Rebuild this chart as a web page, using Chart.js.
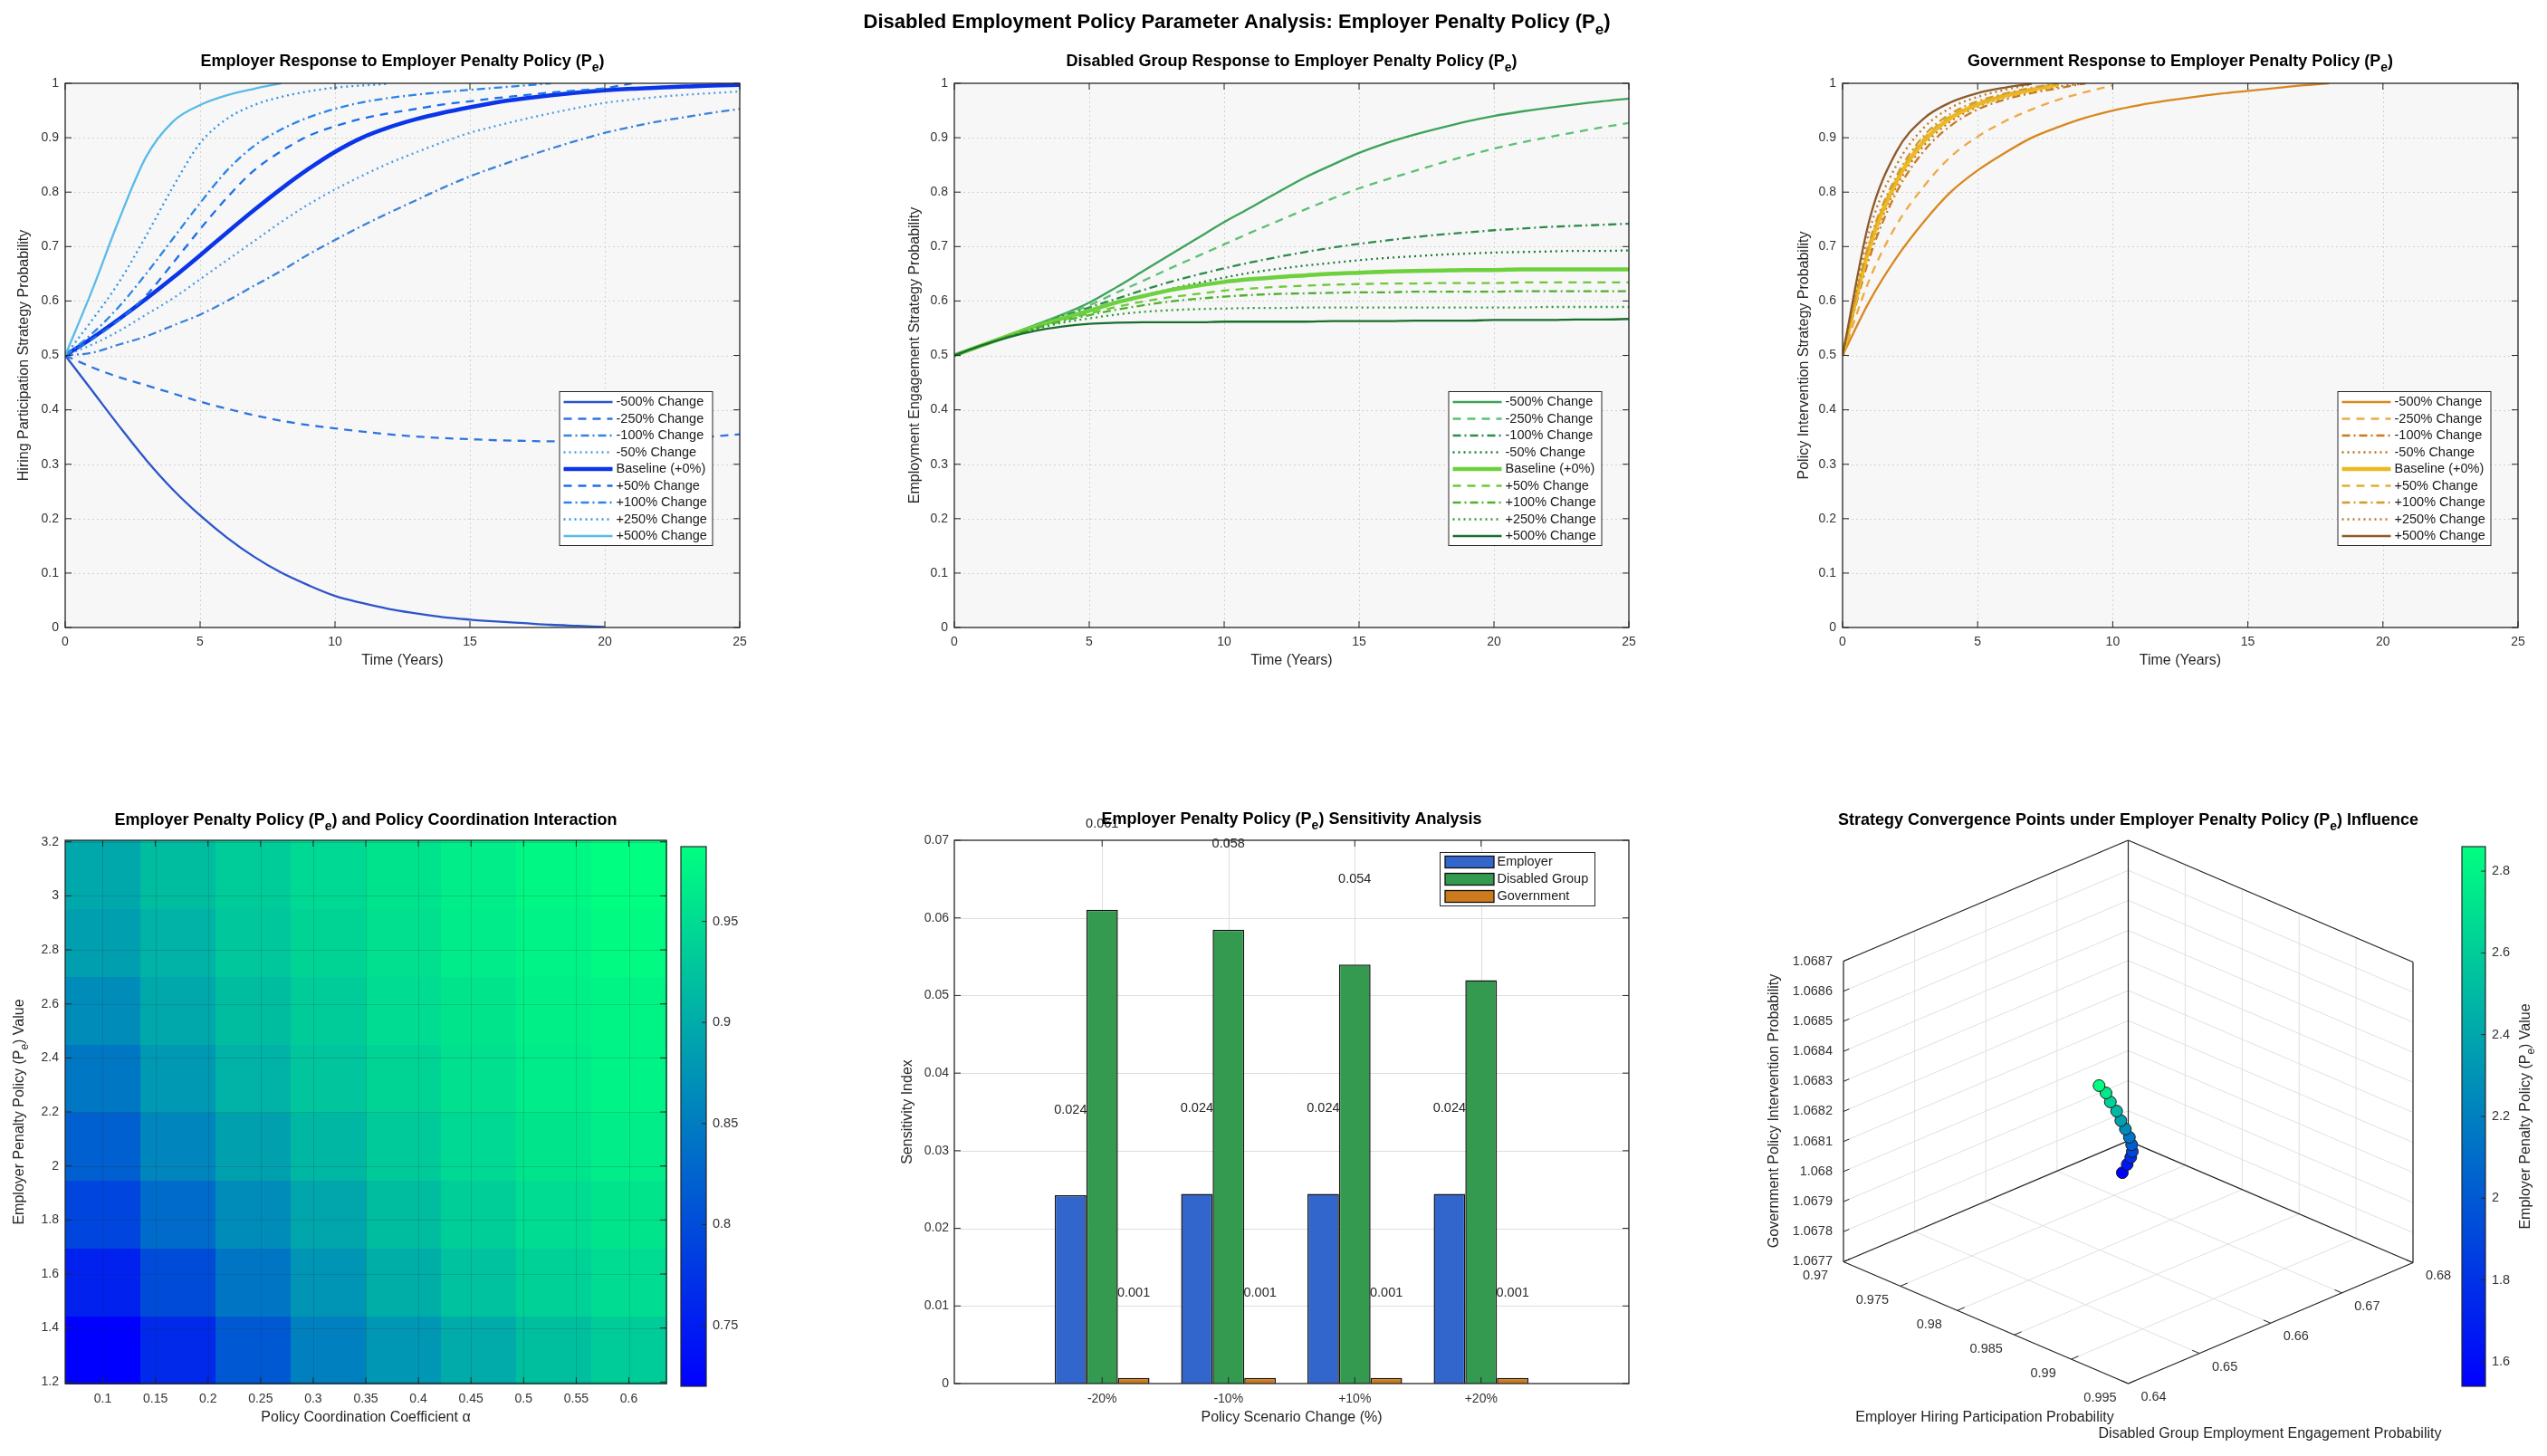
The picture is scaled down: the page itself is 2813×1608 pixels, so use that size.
<!DOCTYPE html>
<html>
<head>
<meta charset="utf-8">
<title>Disabled Employment Policy Parameter Analysis</title>
<script src="https://cdn.jsdelivr.net/npm/chart.js@4.4.1/dist/chart.umd.min.js"></script>
<style>
  html, body { margin: 0; padding: 0; background: #fff; }
  #page { position: relative; width: 2813px; height: 1608px; overflow: hidden; }
  #page canvas { position: absolute; left: 0; top: 0; }
</style>
</head>
<body>
<div id="page">
  <canvas id="empChart" width="2813" height="1608"></canvas>
  <canvas id="disChart" width="2813" height="1608"></canvas>
  <canvas id="govChart" width="2813" height="1608"></canvas>
  <canvas id="heatChart" width="2813" height="1608"></canvas>
  <canvas id="sensChart" width="2813" height="1608"></canvas>
  <canvas id="convChart" width="2813" height="1608"></canvas>
</div>
<script>
// ---------- data ----------
const years = [0,1,2,3,4,5,6,7,8,9,10,11,12,13,14,15,16,17,18,19,20,21,22,23,24,25];
const changeLabels = ['-500% Change','-250% Change','-100% Change','-50% Change','Baseline (+0%)',
                      '+50% Change','+100% Change','+250% Change','+500% Change'];

// employer hiring probability
const empM500 = [0.5,0.435,0.37,0.308,0.253,0.206,0.165,0.13,0.101,0.078,0.058,0.045,0.034,0.026,0.019,0.0145,0.011,0.008,0.005,0.003,0.001];
const empM250 = [0.5,0.478,0.46,0.445,0.43,0.415,0.402,0.39,0.38,0.372,0.366,0.36,0.355,0.351,0.348,0.346,0.344,0.343,0.342,0.342,0.342,0.343,0.345,0.348,0.351,0.355];
const empM100 = [0.5,0.505,0.52,0.535,0.555,0.575,0.6,0.628,0.655,0.685,0.712,0.738,0.762,0.785,0.808,0.829,0.847,0.864,0.88,0.895,0.909,0.92,0.93,0.938,0.946,0.953];
const empM50  = [0.5,0.52,0.545,0.575,0.605,0.64,0.675,0.71,0.745,0.777,0.805,0.83,0.853,0.873,0.892,0.909,0.922,0.934,0.945,0.955,0.964,0.97,0.975,0.979,0.982,0.985];
const empBase = [0.5,0.532,0.567,0.604,0.643,0.684,0.726,0.767,0.806,0.842,0.874,0.9,0.919,0.934,0.946,0.956,0.965,0.972,0.978,0.983,0.987,0.99,0.992,0.994,0.996,0.997];
const empP50  = [0.5,0.53,0.565,0.61,0.67,0.732,0.79,0.84,0.875,0.903,0.921,0.935,0.945,0.953,0.961,0.967,0.973,0.978,0.983,0.987,0.991,1.0];
const empP100 = [0.5,0.54,0.59,0.65,0.715,0.78,0.84,0.885,0.915,0.937,0.953,0.965,0.973,0.979,0.984,0.988,0.992,0.996,1.0];
const empP250 = [0.5,0.565,0.635,0.72,0.81,0.89,0.935,0.96,0.975,0.985,0.992,0.996,0.999];
const empP500 = [0.5,0.62,0.75,0.865,0.93,0.96,0.978,0.99,1.0];

// disabled group engagement probability
const disM500 = [0.5,0.518,0.537,0.556,0.575,0.597,0.625,0.655,0.685,0.715,0.745,0.772,0.8,0.827,0.85,0.872,0.89,0.905,0.918,0.93,0.94,0.948,0.955,0.961,0.967,0.972];
const disM250 = [0.5,0.518,0.537,0.556,0.574,0.592,0.615,0.637,0.66,0.682,0.704,0.726,0.747,0.768,0.788,0.807,0.823,0.838,0.853,0.867,0.88,0.891,0.901,0.91,0.919,0.927];
const disM100 = [0.5,0.518,0.537,0.555,0.572,0.588,0.604,0.62,0.635,0.648,0.66,0.671,0.681,0.69,0.698,0.705,0.711,0.717,0.722,0.726,0.73,0.733,0.736,0.738,0.74,0.742];
const disM50  = [0.5,0.518,0.536,0.553,0.568,0.582,0.597,0.61,0.622,0.633,0.643,0.652,0.659,0.665,0.67,0.675,0.679,0.682,0.685,0.687,0.689,0.69,0.691,0.692,0.692,0.693];
const disBase = [0.5,0.518,0.536,0.553,0.568,0.582,0.597,0.609,0.62,0.628,0.635,0.64,0.644,0.647,0.65,0.652,0.654,0.655,0.656,0.657,0.657,0.658,0.658,0.658,0.658,0.658];
const disP50  = [0.5,0.518,0.535,0.551,0.565,0.577,0.589,0.599,0.607,0.613,0.619,0.623,0.626,0.628,0.63,0.631,0.632,0.632,0.633,0.633,0.633,0.634,0.634,0.634,0.634,0.634];
const disP100 = [0.5,0.518,0.535,0.55,0.563,0.574,0.584,0.592,0.599,0.604,0.608,0.611,0.613,0.614,0.615,0.616,0.616,0.617,0.617,0.617,0.617,0.618,0.618,0.618,0.618,0.618];
const disP250 = [0.5,0.518,0.534,0.548,0.56,0.568,0.575,0.58,0.583,0.585,0.586,0.587,0.587,0.588,0.588,0.588,0.588,0.588,0.588,0.588,0.588,0.588,0.589,0.589,0.589,0.589];
const disP500 = [0.5,0.518,0.533,0.545,0.553,0.558,0.56,0.561,0.561,0.561,0.562,0.562,0.562,0.562,0.563,0.563,0.563,0.564,0.564,0.564,0.565,0.565,0.565,0.566,0.566,0.567];

// government intervention probability
const govM500 = [0.5,0.6,0.68,0.745,0.8,0.84,0.872,0.9,0.92,0.937,0.95,0.96,0.968,0.975,0.981,0.986,0.991,0.996,1.0];
const govM250 = [0.5,0.64,0.74,0.81,0.865,0.902,0.93,0.952,0.97,0.984,0.996];
const govM100 = [0.5,0.68,0.8,0.875,0.922,0.952,0.97,0.982,0.991,1.0];
const govM50  = [0.5,0.69,0.81,0.885,0.93,0.957,0.974,0.985,0.994,1.0];
const govBase = [0.5,0.7,0.82,0.893,0.936,0.961,0.977,0.988,0.998];
const govP50  = [0.5,0.705,0.825,0.898,0.94,0.964,0.979,0.99,0.999];
const govP100 = [0.5,0.71,0.83,0.903,0.944,0.967,0.981,0.992,1.0];
const govP250 = [0.5,0.73,0.85,0.918,0.955,0.975,0.988,0.998];
const govP500 = [0.5,0.75,0.875,0.935,0.965,0.982,0.992,0.999];

// heatmap: alpha (columns) x Pe (rows, bottom to top)
const alphaVals = [0.1,0.1714,0.2429,0.3143,0.3857,0.4571,0.5286,0.6];
const peVals = [1.32,1.5714,1.8229,2.0743,2.3257,2.5771,2.8286,3.08];
const heatValues = [
  [0.720,0.763,0.813,0.854,0.878,0.899,0.920,0.934],
  [0.755,0.800,0.843,0.875,0.902,0.923,0.939,0.950],
  [0.792,0.832,0.867,0.894,0.918,0.936,0.950,0.960],
  [0.821,0.859,0.888,0.912,0.931,0.947,0.960,0.968],
  [0.845,0.880,0.907,0.926,0.942,0.955,0.966,0.974],
  [0.867,0.896,0.918,0.934,0.950,0.960,0.971,0.976],
  [0.886,0.907,0.928,0.942,0.955,0.966,0.974,0.982],
  [0.896,0.918,0.934,0.947,0.958,0.968,0.979,0.987]
];
const alphaTicks = [0.1,0.15,0.2,0.25,0.3,0.35,0.4,0.45,0.5,0.55,0.6];
const peTicks = [1.2,1.4,1.6,1.8,2,2.2,2.4,2.6,2.8,3,3.2];
const heatBarTicks = [0.75,0.8,0.85,0.9,0.95];

// sensitivity bars
const scenarioLabels = ['-20%','-10%','+10%','+20%'];
const scenarioPos = [1,2,3,4];
const sensEmployer = [0.02426,0.02443,0.02443,0.02443];
const sensDisabled = [0.06105,0.05849,0.05398,0.05198];
const sensGov = [0.00072,0.00072,0.00072,0.00072];
const sensTicks = [0,0.01,0.02,0.03,0.04,0.05,0.06,0.07];

// convergence points
const convPe = [1.54,1.66,1.78,1.90,2.02,2.14,2.26,2.38,2.50,2.62,2.74,2.86];
const convEmployer = [0.97448,0.97616,0.97772,0.97911,0.98030,0.98135,0.98225,0.98310,0.98398,0.98468,0.98555,0.98619];
const convDisabled = [0.672,0.670,0.668,0.666,0.664,0.662,0.660,0.658,0.656,0.654,0.652,0.650];
const convGov = [1.067747,1.067822,1.067891,1.067953,1.068015,1.068077,1.068139,1.068201,1.068267,1.068329,1.068393,1.068448];
const convXTicks = [0.97,0.975,0.98,0.985,0.99,0.995];
const convYTicks = [0.64,0.65,0.66,0.67,0.68];
const convZTicks = [1.0677,1.0678,1.0679,1.068,1.0681,1.0682,1.0683,1.0684,1.0685,1.0686,1.0687];
const peBarTicks = [1.6,1.8,2,2.2,2.4,2.6,2.8];

// ---------- styles ----------
const W = 2813, H = 1608;
const AXW = 64, AXH = 40;   // room kept for tick labels
const FONT = '"Liberation Sans", Arial, Helvetica, sans-serif';
const TITLE_PX = 18, LABEL_PX = 16, SUPTITLE_PX = 22;
Chart.defaults.font.family = FONT;
Chart.defaults.font.size = 14;
Chart.defaults.color = '#333333';
const AXIS = '#262626';

const dashes = { '-': [], '--': [9, 7], '-.': [9, 4, 2, 4], ':': [2, 4] };
const lineKinds = ['-', '--', '-.', ':', '-', '--', '-.', ':', '-'];
const lineWidths = [2.3, 2.3, 2.3, 2.3, 4.5, 2.3, 2.3, 2.3, 2.3];
const empColors = ['#2b55c8','#2e74e0','#3b82d9','#4e9ce6','#0a35e8','#1e6fe6','#2a86e6','#2e95e8','#5abbe8'];
const disColors = ['#3da35a','#5cc073','#2e8b4a','#1f7a3a','#6dd13e','#6cc93a','#4faf2f','#2e9a35','#1b6f2e'];
const govColors = ['#d9871f','#f0a845','#c87a1f','#b8701e','#edb91e','#e3ae30','#d29b30','#b87a28','#8e5a2a'];

const lineLegend = { right: 30.5, top: 340, w: 169, h: 170, first: 12, step: 18.5, sx0: 5, sx1: 59, tx: 63, kind: 'line' };
const barLegend = { right: 38, top: 13, w: 171, h: 59, first: 11, step: 19, sx0: 6, sx1: 60, sh: 13, tx: 63.5, kind: 'box' };

// ---------- helpers ----------
function winter(t) {
  t = Math.max(0, Math.min(1, t));
  return `rgb(0,${Math.round(255 * t)},${Math.round(255 * (1 - t / 2))})`;
}

function richText(ctx, str, x, y, opt) {
  const size = opt.size || LABEL_PX, weight = opt.weight || 'normal', align = opt.align || 'center';
  const parts = str.split(/(_\{[^}]*\})/).filter(Boolean)
    .map(p => p.startsWith('_{') ? { t: p.slice(2, -1), sub: true } : { t: p, sub: false });
  const fontOf = p => `${weight} ${p.sub ? Math.round(size * 0.75) : size}px ${FONT}`;
  ctx.save();
  ctx.translate(x, y);
  if (opt.rotate) ctx.rotate(opt.rotate);
  ctx.fillStyle = opt.color || '#000';
  ctx.textBaseline = 'middle';
  ctx.textAlign = 'left';
  let total = 0;
  parts.forEach(p => { ctx.font = fontOf(p); p.w = ctx.measureText(p.t).width; total += p.w; });
  let cx = align === 'center' ? -total / 2 : (align === 'right' ? -total : 0);
  parts.forEach(p => { ctx.font = fontOf(p); ctx.fillText(p.t, cx, p.sub ? size * 0.38 : 0); cx += p.w; });
  ctx.restore();
}

const fixFit = s => {
  if (s.isHorizontal()) s.height = AXH; else s.width = AXW;
  s.paddingLeft = s.paddingRight = s.paddingTop = s.paddingBottom = 0;
};

function linAxis(min, max, ticks, pad, labelFn) {
  return {
    type: 'linear', min, max, offset: false,
    afterFit: fixFit,
    afterBuildTicks: s => { s.ticks = ticks.map(v => ({ value: v })); },
    ticks: { padding: pad, autoSkip: false, maxRotation: 0, color: '#333', font: { size: 14 },
             callback: labelFn || (v => String(+v.toFixed(4))) },
    grid: { display: false, drawTicks: false },
    border: { display: false }
  };
}

function baseOptions(rect, scales, noAxes) {
  const ax = noAxes ? 0 : 1;
  return {
    responsive: false, animation: false, devicePixelRatio: 1, events: [],
    layout: { padding: { left: rect.l - AXW * ax, top: rect.t, right: W - rect.r, bottom: H - rect.b - AXH * ax } },
    plugins: { legend: { display: false }, tooltip: { enabled: false } },
    scales
  };
}

function line(ctx, x0, y0, x1, y1) { ctx.beginPath(); ctx.moveTo(x0, y0); ctx.lineTo(x1, y1); ctx.stroke(); }

function drawGrid(chart, style) {
  const { ctx, chartArea: ca } = chart;
  ctx.save();
  ctx.strokeStyle = style.color; ctx.lineWidth = 1; ctx.setLineDash(style.dash || []);
  chart.scales.x.ticks.forEach(t => {
    const x = Math.round(chart.scales.x.getPixelForValue(t.value)) + 0.5;
    if (x > ca.left + 1 && x < ca.right - 1) line(ctx, x, ca.top, x, ca.bottom);
  });
  chart.scales.y.ticks.forEach(t => {
    const y = Math.round(chart.scales.y.getPixelForValue(t.value)) + 0.5;
    if (y > ca.top + 1 && y < ca.bottom - 1) line(ctx, ca.left, y, ca.right, y);
  });
  ctx.restore();
}

function drawFrame(chart) {
  const { ctx, chartArea: ca } = chart;
  ctx.save();
  ctx.strokeStyle = AXIS; ctx.lineWidth = 1.3;
  ctx.strokeRect(ca.left, ca.top, ca.right - ca.left, ca.bottom - ca.top);
  ctx.lineWidth = 1;
  const tl = 7;
  chart.scales.x.ticks.forEach(t => {
    const x = chart.scales.x.getPixelForValue(t.value);
    line(ctx, x, ca.bottom, x, ca.bottom - tl);
    line(ctx, x, ca.top, x, ca.top + tl);
  });
  chart.scales.y.ticks.forEach(t => {
    const y = chart.scales.y.getPixelForValue(t.value);
    line(ctx, ca.left, y, ca.left + tl, y);
    line(ctx, ca.right, y, ca.right - tl, y);
  });
  ctx.restore();
}

function drawLegend(chart, L) {
  const { ctx, chartArea: ca } = chart;
  const x0 = ca.right - L.right - L.w, y0 = ca.top + L.top;
  ctx.save();
  ctx.fillStyle = '#fff';
  ctx.fillRect(x0, y0, L.w, L.h);
  ctx.strokeStyle = AXIS; ctx.lineWidth = 1;
  ctx.strokeRect(x0 + 0.5, y0 + 0.5, L.w, L.h);
  chart.data.datasets.forEach((ds, i) => {
    const y = y0 + L.first + i * L.step;
    if (L.kind === 'line') {
      ctx.strokeStyle = ds.borderColor; ctx.lineWidth = ds.borderWidth;
      ctx.setLineDash(ds.borderDash || []);
      line(ctx, x0 + L.sx0, y, x0 + L.sx1, y);
      ctx.setLineDash([]);
    } else {
      ctx.fillStyle = ds.backgroundColor;
      ctx.fillRect(x0 + L.sx0, y - L.sh / 2, L.sx1 - L.sx0, L.sh);
      ctx.strokeStyle = '#111'; ctx.lineWidth = 1.3;
      ctx.strokeRect(x0 + L.sx0, y - L.sh / 2, L.sx1 - L.sx0, L.sh);
    }
    ctx.fillStyle = '#1a1a1a'; ctx.font = `14.5px ${FONT}`;
    ctx.textAlign = 'left'; ctx.textBaseline = 'middle';
    ctx.fillText(ds.label, x0 + L.tx, y);
  });
  ctx.restore();
}

function drawColorbar(ctx, cb) {
  ctx.save();
  const g = ctx.createLinearGradient(0, cb.y1, 0, cb.y0);
  g.addColorStop(0, winter(0)); g.addColorStop(1, winter(1));
  ctx.fillStyle = g;
  ctx.fillRect(cb.x0, cb.y0, cb.x1 - cb.x0, cb.y1 - cb.y0);
  ctx.strokeStyle = AXIS; ctx.lineWidth = 1.2;
  ctx.strokeRect(cb.x0, cb.y0, cb.x1 - cb.x0, cb.y1 - cb.y0);
  ctx.lineWidth = 1;
  ctx.fillStyle = '#333'; ctx.font = `14.5px ${FONT}`;
  ctx.textAlign = 'left'; ctx.textBaseline = 'middle';
  cb.ticks.forEach(t => {
    const y = cb.y1 - (t - cb.min) / (cb.max - cb.min) * (cb.y1 - cb.y0);
    line(ctx, cb.x1 - 5, y, cb.x1, y);
    ctx.fillText(String(+t.toFixed(2)), cb.x1 + 7, y);
  });
  ctx.restore();
  if (cb.label) richText(ctx, cb.label, cb.labelX, (cb.y0 + cb.y1) / 2, { size: LABEL_PX, color: '#262626', rotate: -Math.PI / 2 });
}

function decorPlugin(cfg) {
  return {
    id: 'decor',
    beforeDraw(chart) {
      const { ctx, chartArea: ca } = chart;
      if (cfg.bg) { ctx.save(); ctx.fillStyle = cfg.bg; ctx.fillRect(ca.left, ca.top, ca.right - ca.left, ca.bottom - ca.top); ctx.restore(); }
      if (cfg.cells) cfg.cells(chart);
      if (cfg.grid) drawGrid(chart, cfg.grid);
      if (cfg.box3d) cfg.box3d(chart);
    },
    afterDatasetsDraw(chart) { if (cfg.afterData) cfg.afterData(chart); },
    afterDraw(chart) {
      const { ctx, chartArea: ca } = chart;
      if (cfg.frame) drawFrame(chart);
      if (cfg.legend) drawLegend(chart, cfg.legend);
      if (cfg.colorbar) drawColorbar(ctx, cfg.colorbar);
      if (cfg.labels3d) cfg.labels3d(chart);
      const cx = (ca.left + ca.right) / 2;
      if (cfg.title) richText(ctx, cfg.title, cx, ca.top + cfg.titleDy, { size: TITLE_PX, weight: 'bold', color: '#000' });
      if (cfg.xLabel) richText(ctx, cfg.xLabel, cx, ca.bottom + cfg.xLabelDy, { size: LABEL_PX, color: '#262626' });
      if (cfg.yLabel) richText(ctx, cfg.yLabel, ca.left + cfg.yLabelDx, (ca.top + ca.bottom) / 2, { size: LABEL_PX, color: '#262626', rotate: -Math.PI / 2 });
      if (cfg.suptitle) richText(ctx, cfg.suptitle.text, cfg.suptitle.x, cfg.suptitle.y, { size: SUPTITLE_PX, weight: 'bold', color: '#000' });
    }
  };
}

// ---------- top row: strategy trajectories ----------
function makeLineChart(id, rect, colors, seriesList, title, yLabel, yLabelDx, suptitle) {
  const datasets = seriesList.map((vals, i) => ({
    label: changeLabels[i],
    data: years.map((t, k) => ({ x: t, y: vals[k] === undefined ? null : vals[k] })),
    borderColor: colors[i], borderWidth: lineWidths[i], borderDash: dashes[lineKinds[i]],
    pointRadius: 0, cubicInterpolationMode: 'monotone', fill: false, order: seriesList.length - i
  }));
  return new Chart(document.getElementById(id), {
    type: 'line',
    data: { datasets },
    options: baseOptions(rect, {
      x: linAxis(0, 25, [0, 5, 10, 15, 20, 25], 8),
      y: linAxis(0, 1, [0, 0.1, 0.2, 0.3, 0.4, 0.5, 0.6, 0.7, 0.8, 0.9, 1], 7)
    }),
    plugins: [decorPlugin({
      bg: '#f7f7f7', grid: { color: '#d2d2d2', dash: [2, 3] }, frame: true, legend: lineLegend,
      title, titleDy: -24, xLabel: 'Time (Years)', xLabelDy: 36.5, yLabel, yLabelDx, suptitle
    })]
  });
}

makeLineChart('empChart', { l: 72, r: 817, t: 92, b: 693 }, empColors,
  [empM500, empM250, empM100, empM50, empBase, empP50, empP100, empP250, empP500],
  'Employer Response to Employer Penalty Policy (P_{e})', 'Hiring Participation Strategy Probability', -45);

makeLineChart('disChart', { l: 1054, r: 1799, t: 92, b: 693 }, disColors,
  [disM500, disM250, disM100, disM50, disBase, disP50, disP100, disP250, disP500],
  'Disabled Group Response to Employer Penalty Policy (P_{e})', 'Employment Engagement Strategy Probability', -43,
  { text: 'Disabled Employment Policy Parameter Analysis: Employer Penalty Policy (P_{e})', x: 1366, y: 25 });

makeLineChart('govChart', { l: 2035, r: 2781, t: 92, b: 693 }, govColors,
  [govM500, govM250, govM100, govM50, govBase, govP50, govP100, govP250, govP500],
  'Government Response to Employer Penalty Policy (P_{e})', 'Policy Intervention Strategy Probability', -42);

// ---------- heatmap ----------
const alphaHalf = (alphaVals[1] - alphaVals[0]) / 2;
const peHalf = (peVals[1] - peVals[0]) / 2;
const heatFlat = heatValues.flat();
const heatMin = Math.min(...heatFlat), heatMax = Math.max(...heatFlat);
const heatCells = [];
peVals.forEach((pe, r) => alphaVals.forEach((a, c) => heatCells.push({ x: a, y: pe, v: heatValues[r][c] })));

function drawHeatCells(chart) {
  const { ctx } = chart;
  const xs = chart.scales.x, ys = chart.scales.y;
  ctx.save();
  chart.data.datasets[0].data.forEach(p => {
    const x0 = Math.round(xs.getPixelForValue(p.x - alphaHalf)), x1 = Math.round(xs.getPixelForValue(p.x + alphaHalf));
    const y0 = Math.round(ys.getPixelForValue(p.y + peHalf)), y1 = Math.round(ys.getPixelForValue(p.y - peHalf));
    ctx.fillStyle = winter((p.v - heatMin) / (heatMax - heatMin));
    ctx.fillRect(x0, y0, x1 - x0 + 1, y1 - y0 + 1);
  });
  ctx.restore();
}

new Chart(document.getElementById('heatChart'), {
  type: 'scatter',
  data: { datasets: [{ data: heatCells, pointRadius: 0 }] },
  options: baseOptions({ l: 72, r: 736, t: 928, b: 1528 }, {
    x: linAxis(alphaVals[0] - alphaHalf, alphaVals[alphaVals.length - 1] + alphaHalf, alphaTicks, 9),
    y: linAxis(peVals[0] - peHalf, peVals[peVals.length - 1] + peHalf, peTicks, 7)
  }),
  plugins: [decorPlugin({
    cells: drawHeatCells, grid: { color: 'rgba(30,30,30,0.16)' }, frame: true,
    colorbar: { x0: 752, x1: 780, y0: 935, y1: 1531, min: heatMin, max: heatMax, ticks: heatBarTicks },
    title: 'Employer Penalty Policy (P_{e}) and Policy Coordination Interaction', titleDy: -22,
    xLabel: 'Policy Coordination Coefficient \u03b1', xLabelDy: 38,
    yLabel: 'Employer Penalty Policy (P_{e}) Value', yLabelDx: -50
  })]
});

// ---------- sensitivity bars ----------
const LABEL_LIFT = 0.011;
function drawBarLabels(chart) {
  const { ctx } = chart;
  ctx.save();
  ctx.fillStyle = '#262626'; ctx.font = `14.5px ${FONT}`;
  ctx.textAlign = 'center'; ctx.textBaseline = 'middle';
  chart.data.datasets.forEach((ds, i) => {
    chart.getDatasetMeta(i).data.forEach((bar, j) => {
      const v = ds.data[j].y;
      ctx.fillText(v.toFixed(3), bar.x, chart.scales.y.getPixelForValue(v + LABEL_LIFT));
    });
  });
  ctx.restore();
}

const barSeries = [
  { label: 'Employer', values: sensEmployer, color: '#3366cc' },
  { label: 'Disabled Group', values: sensDisabled, color: '#339a4f' },
  { label: 'Government', values: sensGov, color: '#cc7a1c' }
];

new Chart(document.getElementById('sensChart'), {
  type: 'bar',
  data: {
    datasets: barSeries.map(s => ({
      label: s.label,
      data: scenarioPos.map((x, i) => ({ x, y: s.values[i] })),
      backgroundColor: s.color, borderColor: '#151515', borderWidth: 1.5,
      categoryPercentage: 0.75, barPercentage: 1.0
    }))
  },
  options: baseOptions({ l: 1054, r: 1799, t: 928, b: 1528 }, {
    x: linAxis(-0.17, 5.17, scenarioPos, 9, v => { const i = scenarioPos.indexOf(v); return i >= 0 ? scenarioLabels[i] : ''; }),
    y: linAxis(0, 0.07, sensTicks, 6)
  }),
  plugins: [decorPlugin({
    grid: { color: '#dedede' }, frame: true, legend: barLegend, afterData: drawBarLabels,
    title: 'Employer Penalty Policy (P_{e}) Sensitivity Analysis', titleDy: -23,
    xLabel: 'Policy Scenario Change (%)', xLabelDy: 38,
    yLabel: 'Sensitivity Index', yLabelDx: -51
  })]
});

// ---------- 3D convergence points ----------
const convXLim = [0.97, 0.995], convYLim = [0.64, 0.68], convZLim = [1.0677, 1.0687];
const peLim = [Math.min(...convPe), Math.max(...convPe)];
// oblique view of the unit box (u: employer, v: disabled, w: government)
const VIEW = { ex: [0.5, -0.225], ey: [0.5, 0.2233], ez: [0, 0.555] };
const norm = (val, lim) => (val - lim[0]) / (lim[1] - lim[0]);
function proj(u, v, w) {
  return { x: VIEW.ex[0] * u + VIEW.ey[0] * v + VIEW.ez[0] * w,
           y: VIEW.ex[1] * u + VIEW.ey[1] * v + VIEW.ez[1] * w };
}
function pix(chart, u, v, w) {
  const p = proj(u, v, w);
  return [chart.scales.x.getPixelForValue(p.x), chart.scales.y.getPixelForValue(p.y)];
}

function drawBox3d(chart) {
  const { ctx } = chart;
  const seg = (a, b) => line(ctx, a[0], a[1], b[0], b[1]);
  const P = (u, v, w) => pix(chart, u, v, w);
  const uT = convXTicks.map(t => norm(t, convXLim));
  const vT = convYTicks.map(t => norm(t, convYLim));
  const wT = convZTicks.map(t => norm(t, convZLim));
  ctx.save();
  ctx.strokeStyle = '#e0e0e0'; ctx.lineWidth = 1;
  vT.forEach(v => seg(P(0, v, 0), P(0, v, 1)));
  wT.forEach(w => seg(P(0, 0, w), P(0, 1, w)));
  uT.forEach(u => seg(P(u, 1, 0), P(u, 1, 1)));
  wT.forEach(w => seg(P(0, 1, w), P(1, 1, w)));
  uT.forEach(u => seg(P(u, 0, 0), P(u, 1, 0)));
  vT.forEach(v => seg(P(0, v, 0), P(1, v, 0)));
  ctx.strokeStyle = AXIS; ctx.lineWidth = 1.2;
  [[[0,0,0],[1,0,0]], [[1,0,0],[1,1,0]], [[1,1,0],[0,1,0]], [[0,1,0],[0,0,0]],
   [[0,0,0],[0,0,1]], [[0,1,0],[0,1,1]], [[1,1,0],[1,1,1]],
   [[0,0,1],[0,1,1]], [[0,1,1],[1,1,1]]].forEach(([a, b]) => seg(P(...a), P(...b)));
  ctx.lineWidth = 1;
  uT.forEach(u => seg(P(u, 0, 0), P(u, 0.025, 0)));
  vT.forEach(v => seg(P(1, v, 0), P(0.975, v, 0)));
  wT.forEach(w => seg(P(0, 0, w), P(0, 0.02, w)));
  ctx.restore();
}

function drawLabels3d(chart) {
  const { ctx, chartArea: ca } = chart;
  ctx.save();
  ctx.fillStyle = '#333'; ctx.font = `14.5px ${FONT}`; ctx.textBaseline = 'middle';
  ctx.textAlign = 'center';
  convXTicks.forEach(t => { const p = pix(chart, norm(t, convXLim), 0, 0); ctx.fillText(String(+t.toFixed(3)), p[0] - 31, p[1] + 16); });
  convYTicks.forEach(t => { const p = pix(chart, 1, norm(t, convYLim), 0); ctx.fillText(String(+t.toFixed(2)), p[0] + 28, p[1] + 15); });
  ctx.textAlign = 'right';
  convZTicks.forEach(t => { const p = pix(chart, 0, 0, norm(t, convZLim)); ctx.fillText(String(+t.toFixed(4)), p[0] - 12, p[1]); });
  ctx.restore();
  richText(ctx, 'Employer Hiring Participation Probability', ca.left + 156, ca.bottom + 38, { size: LABEL_PX, color: '#262626' });
  richText(ctx, 'Disabled Group Employment Engagement Probability', ca.left + 471, ca.bottom + 56, { size: LABEL_PX, color: '#262626' });
  richText(ctx, 'Government Policy Intervention Probability', ca.left - 76, ca.top + 299, { size: LABEL_PX, color: '#262626', rotate: -Math.PI / 2 });
}

new Chart(document.getElementById('convChart'), {
  type: 'scatter',
  data: {
    datasets: [{
      data: convPe.map((p, i) => proj(norm(convEmployer[i], convXLim), norm(convDisabled[i], convYLim), norm(convGov[i], convZLim))),
      pointBackgroundColor: convPe.map(p => winter(norm(p, peLim))),
      pointBorderColor: '#1a1a1a', pointBorderWidth: 1, pointRadius: 6.5
    }]
  },
  options: baseOptions({ l: 2036, r: 2665, t: 928, b: 1528 }, {
    x: { type: 'linear', min: 0, max: 1, display: false },
    y: { type: 'linear', min: VIEW.ex[1], max: VIEW.ey[1] + VIEW.ez[1], display: false }
  }, true),
  plugins: [decorPlugin({
    box3d: drawBox3d, labels3d: drawLabels3d,
    colorbar: { x0: 2719, x1: 2745, y0: 935, y1: 1531, min: peLim[0], max: peLim[1], ticks: peBarTicks,
                label: 'Employer Penalty Policy (P_{e}) Value', labelX: 2790 },
    title: 'Strategy Convergence Points under Employer Penalty Policy (P_{e}) Influence', titleDy: -22
  })]
});
</script>
</body>
</html>
